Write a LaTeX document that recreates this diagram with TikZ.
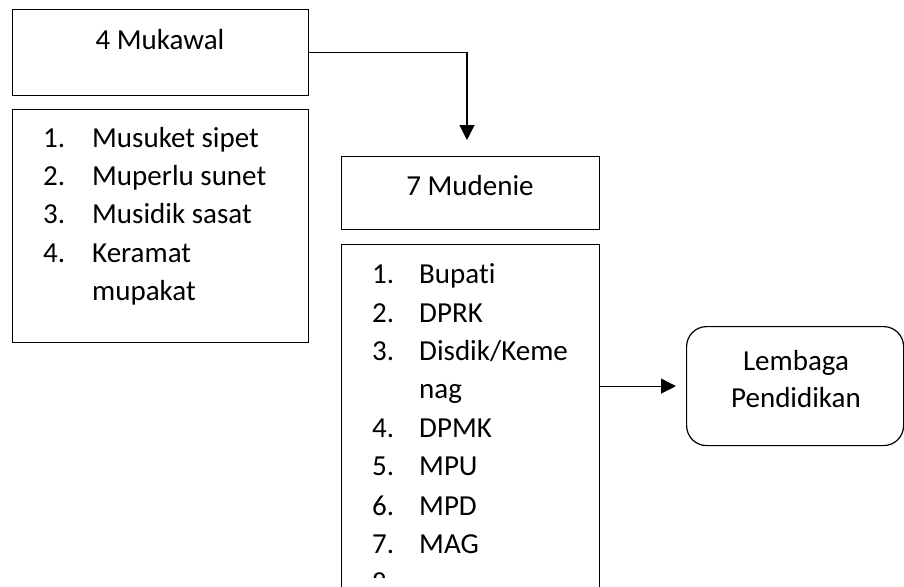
\documentclass[tikz,border=0pt]{standalone}
\usepackage{fontspec}
\setmainfont{Carlito}[Ligatures=NoCommon]
\usetikzlibrary{arrows.meta,calc}
\begin{document}
\begin{tikzpicture}[x=1pt,y=-1pt,
  box/.style={draw=black,line width=1.2pt,inner sep=0pt,anchor=north west},
  rbox/.style={draw=black,line width=1.2pt,inner sep=0pt,anchor=north west,rounded corners=20pt},
  txt/.style={font=\fontsize{29}{34}\selectfont,inner sep=0pt,anchor=base},
  ltxt/.style={font=\fontsize{29}{34}\selectfont,inner sep=0pt,anchor=base west},
  arr/.style={line width=1.2pt,-{Triangle[length=15pt,width=15pt]}}]
\useasboundingbox (0,0) rectangle (904,586);
% boxes
\node[box,minimum width=296pt,minimum height=86pt] (mukawal) at (12,9) {};
\node[box,minimum width=296pt,minimum height=233pt] (mukawallist) at (12,109) {};
\node[box,minimum width=258pt,minimum height=73pt] (mudenie) at (341,156) {};
\node[box,minimum width=258pt,minimum height=400pt] (members) at (341,244) {};
\node[rbox,minimum width=217pt,minimum height=119pt] (lembaga) at (686,326) {};
% titles
\node[txt] (t1) at (160,50) {4 Mukawal};
\node[txt] (t2) at (470,195) {7 Mudenie};
\node[txt] (t3) at (796,370) {Lembaga};
\node[txt] (t4) at (796,407) {Pendidikan};
% list 1
\node[ltxt] (a1) at (43,147) {1.};
\node[ltxt] (b1) at (92,147) {Musuket sipet};
\node[ltxt] (a2) at (43,185) {2.};
\node[ltxt] (b2) at (92,185) {Muperlu sunet};
\node[ltxt] (a3) at (43,223) {3.};
\node[ltxt] (b3) at (92,223) {Musidik sasat};
\node[ltxt] (a4) at (43,262) {4.};
\node[ltxt] (b4) at (92,262) {Keramat};
\node[ltxt] (b5) at (92,300) {mupakat};
% list 2
\node[ltxt] (c1) at (372,283) {1.};
\node[ltxt] (d1) at (419,283) {Bupati};
\node[ltxt] (c2) at (372,322) {2.};
\node[ltxt] (d2) at (419,322) {DPRK};
\node[ltxt] (c3) at (372,360) {3.};
\node[ltxt] (d3) at (419,360) {Disdik/Keme};
\node[ltxt] (d3b) at (419,398) {nag};
\node[ltxt] (c4) at (372,437) {4.};
\node[ltxt] (d4) at (419,437) {DPMK};
\node[ltxt] (c5) at (372,475) {5.};
\node[ltxt] (d5) at (419,475) {MPU};
\node[ltxt] (c6) at (372,515) {6.};
\node[ltxt] (d6) at (419,515) {MPD};
\node[ltxt] (c7) at (372,553) {7.};
\node[ltxt] (d7) at (419,553) {MAG};
\begin{scope}
  \clip (341,244) rectangle (599,577);
  \node[ltxt] (c8) at (372,592) {8.};
\end{scope}
% connectors
\coordinate (tip1) at (467,140);
\draw[arr] (mukawal.east) -| (tip1);
\draw[arr,shorten >=10pt] (members.east |- lembaga.west) -- (lembaga.west);
\end{tikzpicture}
\end{document}
